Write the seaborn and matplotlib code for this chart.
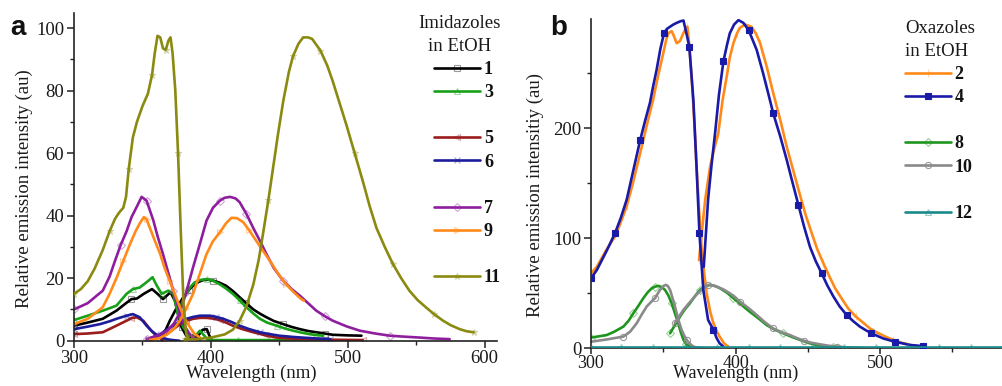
import matplotlib
matplotlib.use("Agg")
import matplotlib.pyplot as plt
from matplotlib.lines import Line2D
from matplotlib.ticker import MultipleLocator, FixedLocator
import seaborn as sns

# ---------------- data: panel a (imidazoles) ----------------
c1_ex_x = [300, 310, 321, 331, 338, 342, 346, 351, 357, 361, 365, 368, 370.5, 373.7, 376, 378.6, 382, 386, 390, 394, 397, 399, 401]
c1_ex_y = [4.8, 5.8, 7, 9.6, 12, 13.3, 13.5, 15, 16.5, 15, 13.3, 14.5, 15.5, 12.8, 8.5, 4.3, 1.6, 0.8, 1.2, 3.5, 3.7, 1.5, 0]
c1_em_x = [363, 367, 370, 375, 380, 384, 387, 391, 394.4, 398, 401.7, 406, 411, 416, 421, 426, 431, 436, 440.6, 446, 452.8, 459, 465, 471, 477, 483, 489, 500, 510]
c1_em_y = [1, 3.5, 6.4, 10.5, 14, 16.3, 17.6, 18.8, 19.4, 19.5, 19.2, 18.6, 17.6, 15.9, 13.9, 11.9, 10, 8.6, 7.5, 6.3, 5.3, 4.4, 3.7, 3.1, 2.7, 2.3, 1.9, 1.7, 1.6]

c3_ex_x = [300, 310, 321, 331, 338.4, 343, 348, 353, 357.4, 360, 364, 368.9, 372.5, 376, 379.8, 384.7, 389.5, 392, 394.4, 398, 420, 440, 460, 482]
c3_ex_y = [6.6, 8, 9.6, 11.2, 15, 16.5, 17, 18.7, 20.3, 18, 15, 16, 15, 8.5, 4.3, 1.6, 2, 3.2, 2, 0.2, 0.2, 0.2, 0.2, 0.2]
c3_em_x = [377, 380, 384.7, 388, 392, 396.8, 401, 406.6, 411, 416, 421, 426, 431, 435.8, 441, 448, 454, 460, 466, 472, 477, 482]
c3_em_y = [9.5, 13.5, 17, 18.6, 19.4, 19.7, 19.3, 18, 16.7, 15, 12.9, 10.7, 8.7, 7, 5.8, 4.8, 3.9, 3.2, 2.6, 2.1, 1.8, 1.6]

c5_ex_x = [300, 310, 321, 331, 338.4, 342, 345.7, 350.6, 355.5, 360, 365]
c5_ex_y = [2.1, 2.3, 2.7, 4.8, 6.4, 7.2, 7.5, 6.4, 3.7, 1.6, 0.2]
c5_em_x = [355.5, 362, 367.6, 372, 377.4, 382, 387, 392, 396.8, 401, 406.6, 411, 416, 423, 431, 440, 448, 458, 470, 490, 511]
c5_em_y = [0.5, 1.2, 2, 3.5, 5.3, 6.3, 7, 7.3, 7.3, 7.1, 6.6, 5.8, 4.8, 3.7, 2.7, 1.7, 1, 0.7, 0.5, 0.3, 0.2]

c6_ex_x = [300, 310, 319, 326, 331, 338.4, 343, 348, 353, 357, 360, 364, 367.6, 372, 377]
c6_ex_y = [3.7, 4.5, 5.3, 6.2, 7, 8, 8.5, 7.5, 4.8, 3, 2, 1, 0.5, 0.2, 0]
c6_em_x = [354, 358, 362.8, 367, 372.5, 377, 382, 387, 392, 399.3, 404, 409, 415, 421, 428, 435.8, 443, 450, 460, 470, 487]
c6_em_y = [0.5, 1.2, 2, 3.3, 4.8, 6, 7, 7.6, 8, 8, 7.6, 7, 6, 4.8, 3.7, 2.7, 2.1, 1.6, 1.2, 0.9, 0.5]

c7_ex_x = [300, 310, 321, 326, 330, 334, 338.4, 342, 345.7, 349.4, 353, 358, 361, 365, 369, 372.5, 376, 378.6, 381, 384.7, 388, 392]
c7_ex_y = [10, 12, 16, 20.5, 25.6, 30.5, 35, 39.5, 42.7, 46, 44.8, 38.4, 33.5, 27.7, 21.5, 16, 11, 7.5, 4.5, 2, 0.8, 0]
c7_em_x = [353, 360, 367.6, 373, 377.4, 382, 387, 392, 396.8, 401.5, 406.6, 410, 414, 418, 421, 426, 431, 436, 440.6, 446, 452.8, 459, 465, 471, 477, 483, 489, 499, 508.8, 520, 530.7, 541, 552.6, 563, 574.4]
c7_em_y = [0.5, 1.5, 3, 5.5, 9, 15.5, 23.5, 31, 38.4, 42.5, 44.8, 45.7, 46, 45.5, 44.3, 40.5, 36, 31.8, 27.7, 23.2, 19.2, 16.5, 14.4, 12, 9.6, 7.9, 6.4, 4.6, 3.2, 2.3, 1.6, 1.3, 1, 0.7, 0.5]

c9_ex_x = [300, 310, 321, 326, 331, 336, 341, 345, 348, 351, 353, 355.5, 359, 363, 366, 370, 374, 377.4, 381, 384.7, 388, 392]
c9_ex_y = [5.3, 7, 10.7, 15, 20, 25.5, 31, 35, 37.5, 39.5, 38.8, 36, 32, 27.7, 23.5, 19, 14.5, 10.7, 7, 4.3, 2.2, 1]
c9_em_x = [355.5, 362, 368, 373, 377.4, 382, 387, 392, 396.8, 401.5, 406.6, 411, 415, 419, 423.6, 428, 433, 438, 443, 449, 455, 461, 466, 468]
c9_em_y = [0.2, 0.8, 2, 3.8, 6.4, 10.3, 15, 21.5, 27.7, 31.8, 34.7, 37.5, 39.3, 39.2, 37.9, 35.3, 32, 28.8, 25.6, 21.5, 18, 15.3, 13.3, 12.8]

c11_ex_x = [300, 305, 310, 315, 321, 326, 330, 333, 336, 338, 340, 343, 346, 350, 354, 357, 359, 361, 363, 365, 367, 369, 370.5, 372, 374, 376, 378, 380, 382, 384]
c11_ex_y = [15, 16.5, 19, 23, 29, 35, 39, 41, 42.5, 46, 55, 65, 70, 75, 79, 85, 92, 97.5, 97, 93.5, 93, 96, 97, 92, 80, 60, 35, 12, 2, 0.5]
c11_em_x = [381, 390, 400, 410, 416, 421, 426, 431, 435, 438, 442, 445.5, 449, 453, 457, 460, 464, 467.4, 471, 474, 480, 485, 489, 494, 499, 505, 511, 516, 521, 527, 533, 539, 545, 551, 557, 563, 569.6, 575, 581.7, 587, 592]
c11_em_y = [0.5, 0.5, 1, 2, 3.5, 6.4, 11, 18, 26, 34, 45, 55.5, 66, 77, 86, 91, 95, 97, 97, 96.5, 92.8, 88, 83, 76, 69, 60, 51, 43, 36, 30, 24.5, 20, 16, 13, 10.7, 8.5, 6.4, 5, 3.7, 3, 2.7]

# ---------------- data: panel b (oxazoles) ----------------
c2_ex_x = [300, 304, 310, 316.6, 320.5, 324.7, 329, 334, 338.5, 343, 346.5, 350, 352, 353.5, 355.8, 357.5, 359.3, 361.6, 363.5, 365, 366.7, 368, 369.7, 371.5, 373, 374.8, 376.6, 378.5, 380, 382.5, 384.7, 387, 389, 392, 395]
c2_ex_y = [68, 74, 88, 101.5, 114, 129, 150, 177, 202, 226, 248, 268, 280, 286, 288, 283, 277, 279, 285, 289, 292, 275, 244, 205, 165, 125, 89, 66, 50, 33, 22.7, 15.5, 10.6, 4.5, 1.5]
c2_em_x = [374.7, 376.6, 379, 382.4, 385, 388, 391, 393.9, 396, 398.5, 401, 403, 406.6, 411, 414, 417, 421.5, 426, 431, 435.4, 440, 444.6, 448.5, 452.7, 456.5, 460.8, 465, 468.9, 473.5, 478, 483, 488.5, 493, 497.7, 503, 509, 515, 520.8, 530]
c2_em_y = [80, 104.5, 135, 165, 180, 195, 225, 247, 264, 277, 286, 291, 294, 292, 286, 277, 256, 232, 207, 183, 161, 139, 121, 104.5, 90, 77, 65, 54.5, 45, 36, 29, 23, 18, 14.5, 11, 7.6, 5, 3, 1]

c4_ex_x = [300, 304, 311, 316.6, 320.5, 324.7, 329, 334, 337.5, 340.8, 343, 345.4, 348, 350.5, 352.5, 354.7, 357, 359.3, 362, 364, 366, 368, 370.8, 373, 375, 377.7, 381, 384.7, 387, 389, 391.6]
c4_ex_y = [63.6, 71, 89, 104.5, 118, 135, 160, 189, 207, 223, 238, 253, 272, 286, 290, 292, 294, 295.5, 297, 297.6, 286, 274, 225.8, 165, 104.5, 53, 25.8, 16.7, 9, 4.5, 1.5]
c4_em_x = [378, 381, 383.5, 385.8, 388.5, 391.6, 394, 396, 399, 402, 405.4, 409, 411.5, 414.6, 419, 422.5, 426, 431, 435.4, 439.5, 443.5, 447.5, 451.5, 455.5, 459.6, 463.5, 467.7, 472, 477, 481.5, 486, 490, 494, 502, 510, 520.8, 529.5]
c4_em_y = [74, 135, 168, 195, 230, 260.6, 275, 286, 294, 298, 295.5, 289, 281, 271, 250, 232, 213.6, 192, 171, 150, 130, 110, 92, 79, 68, 57, 47, 38, 30, 24.5, 19.7, 16.5, 13.6, 9, 6, 3, 2]

c8_ex_x = [300, 310.8, 316, 322.4, 326, 329.3, 333, 336.2, 339, 342, 344.5, 346.6, 349, 351.2, 353.5, 355.8, 358, 360.4, 362, 364, 366, 368.5, 372, 380]
c8_ex_y = [9.7, 12, 15, 19.7, 25, 31.8, 39, 45.5, 50.5, 54.5, 56, 56.7, 55.5, 53, 48, 41, 32, 22.7, 15, 7.6, 3.5, 1.5, 0.5, 0]
c8_em_x = [354.7, 358, 361.6, 365, 368.5, 372, 375.4, 379, 382.4, 386, 389.3, 394, 398.5, 404, 410, 416, 421.6, 427, 433, 439, 444.6, 450, 456, 462, 467.7, 478, 490.8]
c8_em_y = [13.6, 21, 28.8, 35.5, 41, 47.5, 53, 56, 57.6, 56.5, 54.5, 50.5, 45.5, 39.5, 33, 27, 21, 17, 13.6, 10.3, 7.6, 5, 3, 2, 1.5, 0.7, 0]

c10_ex_x = [300, 310.8, 316, 322.4, 327, 331.6, 335, 338.5, 341.5, 344.3, 347.7, 350, 351.7, 353.2, 354.7, 357, 359.3, 361, 362.7, 364.5, 366.2, 368.5, 370.8, 375]
c10_ex_y = [6, 8, 9.2, 10.6, 15, 22.7, 30.5, 37.9, 42, 45.5, 53, 56.5, 57.6, 56.5, 53, 43, 31.8, 23.5, 16.7, 11.5, 7.6, 4, 1.5, 0.3]
c10_em_x = [358, 361, 363.9, 367.5, 370.8, 373.5, 376.6, 379, 381.2, 384, 387, 391.5, 396, 399.5, 403, 409, 414.6, 420, 426, 432, 437.7, 442, 447, 452.5, 458.5, 464, 470, 477]
c10_em_y = [22.7, 29, 34.8, 40.5, 45.5, 49.5, 53, 56, 57.6, 57.2, 56, 53.5, 50, 46.5, 42.4, 36.5, 30.3, 24, 18, 14.5, 12, 9.5, 7, 5, 3.6, 2.4, 1.5, 0.6]

c12_x = [300, 321, 343, 365, 387, 409, 431, 453, 475, 497, 519, 541, 563, 585]
c12_y = [1, 1, 1, 1, 1, 1, 1, 1, 1, 1, 1, 1, 1, 1]

labels_a = ["1", "3", "5", "6", "7", "9", "11"]
labels_b = ["2", "4", "8", "10", "12"]

# ---------------- styling ----------------
sns.set_theme(style="ticks")
plt.rcParams["font.family"] = ["Liberation Serif", "DejaVu Serif"]

TXT = "#1a1a1a"
W, H = 1003, 386
fig = plt.figure(figsize=(W / 100, H / 100), dpi=100)
axA = fig.add_axes([74 / W, 1 - 340.7 / H, 423 / W, 327.7 / H])
axB = fig.add_axes([591 / W, 1 - 348.3 / H, 412 / W, 329.3 / H])

LW = 1.9


def seg(ax, x, y, color, marker, every, mfc="none", ms=5, alpha_m=0.4, z=2):
    r, g, b = matplotlib.colors.to_rgb(color)
    sns.lineplot(x=x, y=y, ax=ax, color=color, lw=LW, sort=False, estimator=None,
                 marker=marker, markevery=every, markersize=ms,
                 markerfacecolor=mfc, markeredgecolor=(r, g, b, alpha_m),
                 markeredgewidth=0.8, zorder=z)


def handle(color, marker, mfc="none", ms=5, alpha_m=0.4):
    r, g, b = matplotlib.colors.to_rgb(color)
    return Line2D([], [], color=color, lw=LW, marker=marker, markersize=ms,
                  markerfacecolor=mfc, markeredgecolor=(r, g, b, alpha_m),
                  markeredgewidth=0.8)


# panel a
styleA = {
    "1": ("#000000", "s"),
    "3": ("#18a018", "^"),
    "5": ("#9a1c1c", "<"),
    "6": ("#1c1c9c", "x"),
    "7": ("#8e1e9e", "D"),
    "9": ("#ff8a1a", ">"),
    "11": ("#8a8a10", "*"),
}
dataA = {
    "1": [(c1_ex_x, c1_ex_y), (c1_em_x, c1_em_y)],
    "3": [(c3_ex_x, c3_ex_y), (c3_em_x, c3_em_y)],
    "5": [(c5_ex_x, c5_ex_y), (c5_em_x, c5_em_y)],
    "6": [(c6_ex_x, c6_ex_y), (c6_em_x, c6_em_y)],
    "7": [(c7_ex_x, c7_ex_y), (c7_em_x, c7_em_y)],
    "9": [(c9_ex_x, c9_ex_y), (c9_em_x, c9_em_y)],
    "11": [(c11_ex_x, c11_ex_y), (c11_em_x, c11_em_y)],
}
for i, lab in enumerate(labels_a):
    col, mk = styleA[lab]
    for (x, y) in dataA[lab]:
        seg(axA, x, y, col, mk, 5, ms=4.5 if mk != "D" else 3.6, z=2 + i * 0.1)

# panel b
styleB = {
    "2": ("#ff8a1a", "|", "none", 6, 0.35),
    "4": ("#1a1aa8", "s", "#1a1aa8", 4.8, 1.0),
    "8": ("#1e961e", "D", "none", 3.8, 0.45),
    "10": ("#8a8a8a", "o", "none", 4.5, 0.85),
    "12": ("#1a8a8a", "^", "none", 4.5, 0.45),
}
dataB = {
    "2": [(c2_ex_x, c2_ex_y, 5), (c2_em_x, c2_em_y, 5)],
    "4": [(c4_ex_x, c4_ex_y, [0, 3, 7, 13, 21, 24, 27]),
          (c4_em_x, c4_em_y, [5, 11, 16, 20, 24, 28, 32, 34, 36])],
    "8": [(c8_ex_x, c8_ex_y, 5), (c8_em_x, c8_em_y, 6)],
    "10": [(c10_ex_x, c10_ex_y, [3, 9, 20]), (c10_em_x, c10_em_y, [0, 8, 14, 18, 22, 26])],
    "12": [(c12_x, c12_y, 1)],
}
zB = {"2": 2, "4": 3, "8": 2.2, "10": 2.4, "12": 3.5}
for lab in labels_b:
    col, mk, mfc, ms, am = styleB[lab]
    for (x, y, ev) in dataB[lab]:
        seg(axB, x, y, col, mk, ev, mfc=mfc, ms=ms, alpha_m=am, z=zB[lab])

# axes formatting
for ax in (axA, axB):
    sns.despine(ax=ax)
    for s in ("left", "bottom"):
        ax.spines[s].set_linewidth(1.2)
        ax.spines[s].set_color("#222222")
    ax.tick_params(which="major", direction="out", length=5, width=1.1,
                   colors="#222222", labelcolor=TXT, labelsize=13.5, pad=2)
    ax.tick_params(which="minor", direction="out", length=3, width=1.0, colors="#222222")
    ax.xaxis.set_major_locator(MultipleLocator(100))
    ax.xaxis.set_minor_locator(MultipleLocator(50))
    ax.grid(False)
axB.tick_params(axis="x", which="major", length=4, pad=0.5, labelsize=13)

axA.set_xlim(300, 609)
axA.set_ylim(0, 104.8)
axA.yaxis.set_major_locator(MultipleLocator(20))
axA.yaxis.set_minor_locator(MultipleLocator(10))

axB.set_xlim(300, 585)
axB.set_ylim(0, 299)
axB.yaxis.set_major_locator(FixedLocator([0, 100, 200]))
axB.yaxis.set_minor_locator(FixedLocator([50, 150, 250]))

axA.set_xlabel("Wavelength (nm)", fontsize=13.5, color=TXT)
axA.xaxis.set_label_coords(0.418, -0.074)
axA.set_ylabel("Relative emission intensity (au)", fontsize=13.5, color=TXT)
axA.yaxis.set_label_coords(-0.097, 0.463)

axB.set_xlabel("Wavelength (nm)", fontsize=13, color=TXT)
axB.xaxis.set_label_coords(0.352, -0.049)
axB.set_ylabel("Relative emission intensitiy (au)", fontsize=13.5, color=TXT)
axB.yaxis.set_label_coords(-0.114, 0.466)

# panel letters
fig.text(10 / W, 1 - 35 / H, "a", fontsize=20, fontweight="bold",
         family=["Liberation Sans", "DejaVu Sans"], color="#111111", va="baseline")
fig.text(550 / W, 1 - 35 / H, "b", fontsize=20, fontweight="bold",
         family=["Liberation Sans", "DejaVu Sans"], color="#111111", va="baseline")

# legends
blank = Line2D([], [], color="none")

hA, lA = [], []
for lab in labels_a:
    col, mk = styleA[lab]
    hA.append(handle(col, mk, ms=4.5 if mk != "D" else 3.6))
    lA.append(lab)
    if lab in ("3", "6", "9"):
        hA.append(blank)
        lA.append("")
legA = axA.legend(hA, lA, loc="upper right", bbox_to_anchor=(501 / W, 1 - 15 / H),
                  bbox_transform=fig.transFigure, frameon=False, borderpad=0,
                  borderaxespad=0, handlelength=2.55, handletextpad=0.2,
                  labelspacing=0.34, alignment="right",
                  title="Imidazoles\nin EtOH",
                  prop={"weight": "bold", "size": 13}, title_fontsize=13.5)
legA.get_title().set_multialignment("center")
legA.get_title().set_linespacing(1.45)
legA.get_title().set_color(TXT)

hB, lB = [], []
for lab in labels_b:
    col, mk, mfc, ms, am = styleB[lab]
    hB.append(handle(col, mk, mfc=mfc, ms=ms, alpha_m=am))
    lB.append(lab)
    if lab in ("4", "10"):
        hB.append(blank)
        lB.append("")
legB = axB.legend(hB, lB, loc="upper left", bbox_to_anchor=(905 / W, 1 - 20 / H),
                  bbox_transform=fig.transFigure, frameon=False, borderpad=0,
                  borderaxespad=0, handlelength=2.55, handletextpad=0.2,
                  labelspacing=0.34, alignment="left",
                  title="Oxazoles\nin EtOH",
                  prop={"weight": "bold", "size": 13}, title_fontsize=13.5)
legB.get_title().set_multialignment("left")
legB.get_title().set_linespacing(1.45)
legB.get_title().set_color(TXT)
for leg in (legA, legB):
    for t in leg.get_texts():
        t.set_color("#111111")

fig.savefig("out.png", dpi=100)
